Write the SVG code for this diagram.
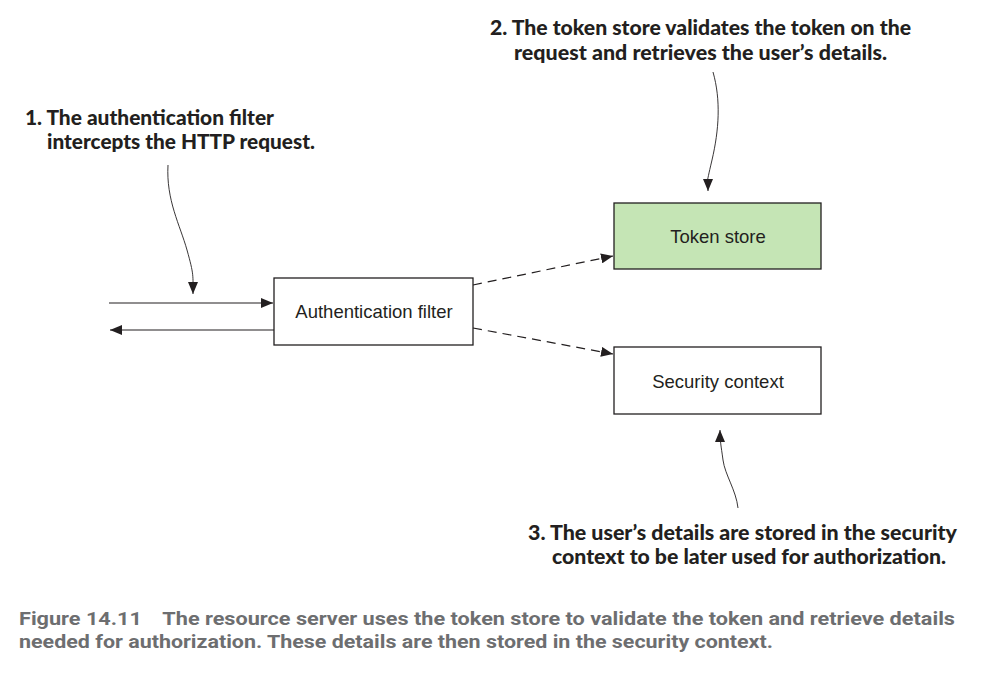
<svg xmlns="http://www.w3.org/2000/svg" width="984" height="679" viewBox="0 0 984 679">
<style>
.box{stroke:#231f20;stroke-width:1.3}
.lbl{font-family:"Liberation Sans",Arial,sans-serif;font-size:18.5px;fill:#231f20;text-anchor:middle}
.call{font-family:Lato,"Open Sans",sans-serif;font-weight:900;font-size:20px;fill:#231f20}
.cap{font-family:"Roboto","Liberation Sans",sans-serif;font-weight:bold;font-size:19px;fill:#6d6e70}
.ln{fill:none;stroke:#231f20;stroke-width:1.2}
.thin{fill:none;stroke:#231f20;stroke-width:0.9}
.dash{fill:none;stroke:#231f20;stroke-width:1.2;stroke-dasharray:9 6}
</style>
<defs>
<marker id="ah" markerUnits="userSpaceOnUse" markerWidth="14" markerHeight="10" refX="12" refY="5" orient="auto">
<path d="M0,0 L12,5 L0,10 Z" fill="#231f20"/>
</marker>
</defs>
<rect width="984" height="679" fill="#ffffff"/>
<g id="connectors">
<line class="ln" x1="109" y1="303" x2="273" y2="303" marker-end="url(#ah)"/>
<line class="ln" x1="274" y1="330" x2="110" y2="330" marker-end="url(#ah)"/>
<line class="dash" x1="473" y1="285" x2="613" y2="256" marker-end="url(#ah)"/>
<line class="dash" x1="473" y1="328" x2="613" y2="354" marker-end="url(#ah)"/>
<path class="thin" d="M168,165 C166,200 180,225 187,250 S193,275 193,294" marker-end="url(#ah)"/>
<path class="thin" d="M713,72 C721,100 719,130 712,160 S708,178 708,191" marker-end="url(#ah)"/>
<path class="thin" d="M738,508 C736,490 725,475 723,460 S720,442 720,430" marker-end="url(#ah)"/>
</g>
<g id="auth-filter">
<rect class="box" x="274" y="278" width="199" height="67" fill="#ffffff"/>
<text class="lbl" x="374" y="318">Authentication filter</text>
</g>
<g id="token-store">
<rect class="box" x="614" y="203" width="207" height="66" fill="#c5e5b5"/>
<text class="lbl" x="718" y="243">Token store</text>
</g>
<g id="security-context">
<rect class="box" x="614" y="347" width="207" height="67" fill="#ffffff"/>
<text class="lbl" x="718" y="388">Security context</text>
</g>
<g id="callout-1">
<text class="call" x="25" y="125" textLength="249" lengthAdjust="spacingAndGlyphs">1. The authentication filter</text>
<text class="call" x="47" y="149" textLength="268" lengthAdjust="spacingAndGlyphs">intercepts the HTTP request.</text>
</g>
<g id="callout-2">
<text class="call" x="490" y="35" textLength="421" lengthAdjust="spacingAndGlyphs">2. The token store validates the token on the</text>
<text class="call" x="514" y="60" textLength="373" lengthAdjust="spacingAndGlyphs">request and retrieves the user’s details.</text>
</g>
<g id="callout-3">
<text class="call" x="528" y="540" textLength="429" lengthAdjust="spacingAndGlyphs">3. The user’s details are stored in the security</text>
<text class="call" x="552" y="564" textLength="394" lengthAdjust="spacingAndGlyphs">context to be later used for authorization.</text>
</g>
<g id="caption">
<text class="cap" x="19" y="625" textLength="936" lengthAdjust="spacingAndGlyphs">Figure 14.11<tspan dx="18">The resource server uses the token store to validate the token and retrieve details</tspan></text>
<text class="cap" x="19" y="648" textLength="754" lengthAdjust="spacingAndGlyphs">needed for authorization. These details are then stored in the security context.</text>
</g>
</svg>
